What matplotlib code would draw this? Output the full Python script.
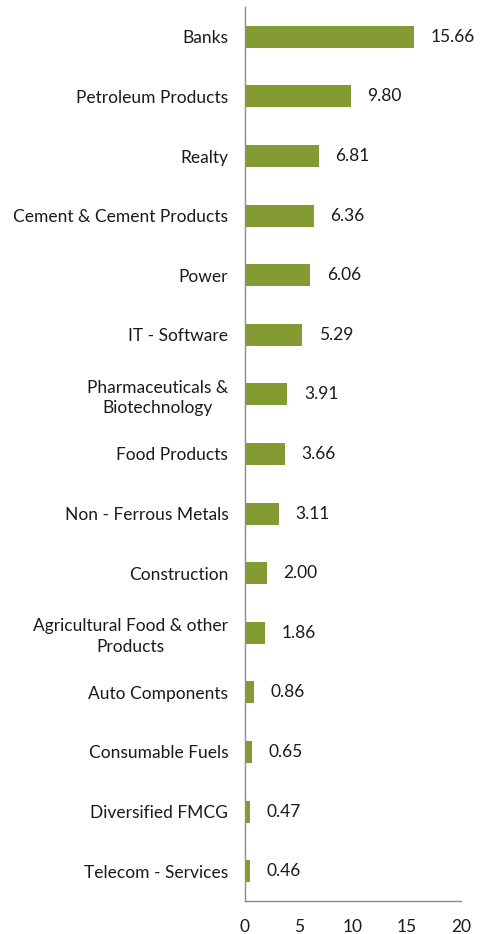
import matplotlib.pyplot as plt

sectors = [
    "Banks", "Petroleum Products", "Realty", "Cement & Cement Products", "Power",
    "IT - Software", "Pharmaceuticals &\nBiotechnology", "Food Products",
    "Non - Ferrous Metals", "Construction", "Agricultural Food & other\nProducts",
    "Auto Components", "Consumable Fuels", "Diversified FMCG", "Telecom - Services",
]
weights = [15.66, 9.80, 6.81, 6.36, 6.06, 5.29, 3.91, 3.66, 3.11, 2.00, 1.86,
           0.86, 0.65, 0.47, 0.46]
xticks = [0, 5, 10, 15, 20]

plt.rcParams['font.family'] = ['Lato', 'DejaVu Sans']
FS = 12.5

fig = plt.figure(figsize=(4.89, 9.34), dpi=100)
ax = fig.add_axes([245 / 489, 1 - 901 / 934, 216 / 489, 894 / 934])

pos = list(range(len(sectors)))
ax.barh(pos, weights, height=0.37, color='#849a32')
for y, v in zip(pos, weights):
    ax.annotate(f"{v:.2f}", (v, y), xytext=(12, 0), textcoords='offset points',
                ha='left', va='center', fontsize=FS, color='#1a1a1a')

ax.set_ylim(len(sectors) - 0.5, -0.5)
ax.set_xlim(0, 20)
ax.set_xticks(xticks)
ax.set_yticks(pos)
ax.set_yticklabels(sectors, fontsize=FS, color='#1a1a1a')
for lab in ax.get_yticklabels():
    lab.set_multialignment('center')
    lab.set_linespacing(1.35)
ax.tick_params(axis='x', length=0, pad=13, labelsize=FS, labelcolor='#1a1a1a')
ax.tick_params(axis='y', length=0, pad=12)

for s in ['top', 'right']:
    ax.spines[s].set_visible(False)
for s in ['left', 'bottom']:
    ax.spines[s].set_color('#8c8c8c')
    ax.spines[s].set_linewidth(1.0)

fig.savefig('out.png', dpi=100)
